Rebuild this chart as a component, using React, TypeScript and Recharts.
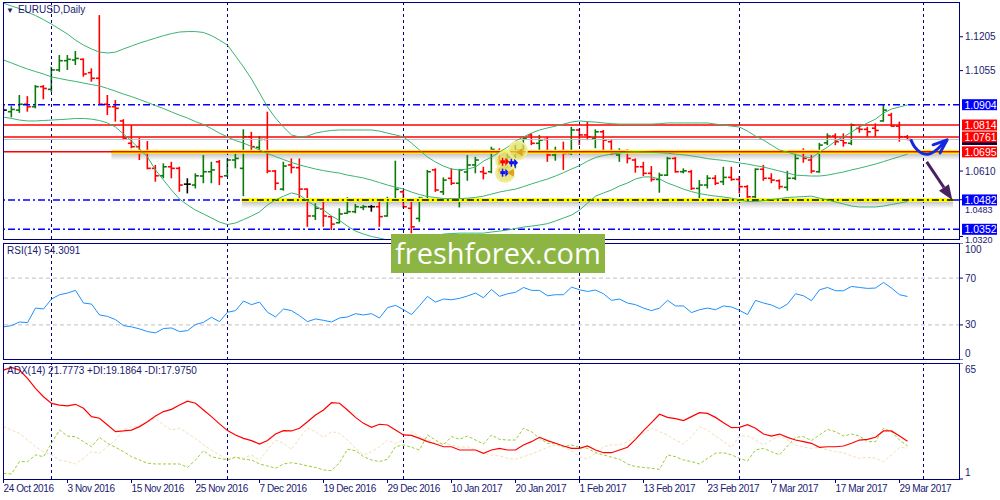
import React from "react";
import {
  ComposedChart,
  Bar,
  Line,
  XAxis,
  YAxis,
  ReferenceLine,
  ReferenceArea,
  ReferenceDot,
} from "recharts";

// daily bars, index 0 = 24 Oct 2016 ... 113 = 30 Mar 2017
const open = [
  1.088, 1.0873, 1.088, 1.0906, 1.0895, 1.0984, 1.0972, 1.1058, 1.1099, 1.1102,
  1.1105, 1.1046, 1.1021, 1.0906, 1.0895, 1.0832, 1.0733, 1.0718, 1.0689, 1.0622,
  1.0589, 1.0629, 1.0622, 1.0552, 1.0548, 1.0588, 1.0607, 1.0651, 1.0589, 1.0659,
  1.0622, 1.0762, 1.0715, 1.075, 1.061, 1.053, 1.0637, 1.0625, 1.053, 1.0411,
  1.0442, 1.0408, 1.0381, 1.0423, 1.043, 1.0449, 1.0452, 1.0452, 1.0411, 1.0485,
  1.0518, 1.0445, 1.04, 1.0482, 1.0615, 1.0518, 1.0578, 1.0556, 1.0606, 1.0637,
  1.0607, 1.0607, 1.0694, 1.0622, 1.0673, 1.0703, 1.077, 1.0733, 1.075, 1.0681,
  1.0696, 1.0688, 1.0792, 1.077, 1.0755, 1.0784, 1.074, 1.0681, 1.0696, 1.0659,
  1.0629, 1.06, 1.0573, 1.0592, 1.0666, 1.0607, 1.0607, 1.0533, 1.0548, 1.0578,
  1.0563, 1.0582, 1.0573, 1.0541, 1.0496, 1.0618, 1.0578, 1.0567, 1.0538, 1.0578,
  1.0696, 1.0659, 1.0607, 1.0735, 1.0765, 1.0747, 1.0733, 1.0799, 1.0795, 1.08,
  1.0832, 1.0858, 1.0809, 1.0762,
];
const high = [
  1.0899, 1.0898, 1.0947, 1.0942, 1.0991, 1.0991, 1.1072, 1.1124, 1.1124, 1.1142,
  1.1109, 1.1065, 1.1301, 1.0947, 1.0925, 1.084, 1.0814, 1.0758, 1.0743, 1.0637,
  1.0644, 1.0651, 1.0629, 1.0578, 1.06, 1.0681, 1.0651, 1.0659, 1.0666, 1.0688,
  1.0795, 1.0784, 1.0765, 1.0873, 1.0615, 1.0651, 1.0666, 1.0666, 1.0533, 1.0467,
  1.0482, 1.0411, 1.0445, 1.0494, 1.0464, 1.046, 1.046, 1.0474, 1.0496, 1.0656,
  1.0526, 1.0489, 1.0496, 1.0615, 1.0622, 1.0582, 1.0622, 1.0618, 1.0681, 1.0673,
  1.0629, 1.0718, 1.0711, 1.0696, 1.0725, 1.0762, 1.0777, 1.077, 1.0762, 1.0718,
  1.074, 1.0806, 1.0799, 1.0829, 1.0795, 1.0792, 1.0747, 1.0711, 1.0706, 1.0666,
  1.0651, 1.0632, 1.0603, 1.0673, 1.0673, 1.0622, 1.0615, 1.057, 1.0592, 1.0592,
  1.0629, 1.0629, 1.0588, 1.0548, 1.0622, 1.0637, 1.06, 1.0573, 1.0611, 1.0696,
  1.0711, 1.0681, 1.0735, 1.0777, 1.0777, 1.0777, 1.0821, 1.0809, 1.0806, 1.0821,
  1.0907, 1.0868, 1.0829, 1.077,
];
const low = [
  1.0858, 1.0848, 1.0868, 1.0873, 1.0888, 1.0928, 1.0961, 1.105, 1.1058, 1.108,
  1.1028, 1.1006, 1.0902, 1.0858, 1.0829, 1.0747, 1.0711, 1.0659, 1.0618, 1.0563,
  1.0578, 1.0578, 1.0518, 1.0511, 1.0533, 1.0556, 1.0556, 1.0548, 1.0585, 1.0622,
  1.0499, 1.0696, 1.0703, 1.06, 1.0526, 1.0523, 1.06, 1.0489, 1.0363, 1.0393,
  1.0363, 1.0349, 1.0378, 1.042, 1.0423, 1.0437, 1.043, 1.0363, 1.0408, 1.0482,
  1.0445, 1.0334, 1.0385, 1.0482, 1.0518, 1.0504, 1.0548, 1.0449, 1.0567, 1.06,
  1.0573, 1.06, 1.0607, 1.0615, 1.0622, 1.0688, 1.0725, 1.0703, 1.0651, 1.0656,
  1.0615, 1.0681, 1.0725, 1.0747, 1.0711, 1.0696, 1.0681, 1.0651, 1.0644, 1.0603,
  1.0588, 1.0563, 1.0514, 1.0588, 1.0603, 1.06, 1.0526, 1.0489, 1.0533, 1.0548,
  1.0548, 1.0567, 1.0511, 1.0489, 1.0489, 1.0567, 1.0556, 1.0529, 1.0523, 1.057,
  1.0647, 1.06, 1.0603, 1.0725, 1.0725, 1.0718, 1.0725, 1.078, 1.0762, 1.0762,
  1.0829, 1.0806, 1.074, 1.0747,
];
const close = [
  1.088, 1.0883, 1.0906, 1.0895, 1.0984, 1.0976, 1.1058, 1.1099, 1.1105, 1.1109,
  1.104, 1.1021, 1.0906, 1.0895, 1.0888, 1.0755, 1.0718, 1.0689, 1.0622, 1.0589,
  1.0629, 1.0622, 1.0548, 1.0552, 1.0589, 1.0607, 1.0615, 1.0585, 1.0659, 1.0666,
  1.0762, 1.0718, 1.075, 1.061, 1.0556, 1.0632, 1.0626, 1.053, 1.0411, 1.0445,
  1.0411, 1.0375, 1.042, 1.043, 1.0452, 1.0452, 1.0452, 1.0408, 1.0482, 1.0529,
  1.0452, 1.0363, 1.049, 1.0607, 1.0526, 1.057, 1.0556, 1.0615, 1.0637, 1.0659,
  1.06, 1.0706, 1.0622, 1.0673, 1.0703, 1.0755, 1.0733, 1.0747, 1.0681, 1.0696,
  1.0688, 1.0792, 1.077, 1.0762, 1.0784, 1.0747, 1.0688, 1.0696, 1.0666, 1.0629,
  1.06, 1.0573, 1.0592, 1.0666, 1.0607, 1.0611, 1.0533, 1.0548, 1.0578, 1.0556,
  1.0582, 1.0573, 1.0541, 1.0496, 1.0618, 1.0578, 1.057, 1.0541, 1.0578, 1.0666,
  1.0666, 1.061, 1.0725, 1.0765, 1.074, 1.0735, 1.0814, 1.0795, 1.0784, 1.079,
  1.088, 1.0809, 1.0762, 1.075,
];

// Bollinger bands
const bbUpper = [
  1.1354, 1.1341, 1.133, 1.1314, 1.1299, 1.1281, 1.1261, 1.1239, 1.1217, 1.119,
  1.1168, 1.1151, 1.1137, 1.1133, 1.1137, 1.1151, 1.1164, 1.1177, 1.1188, 1.1199,
  1.121, 1.1219, 1.1226, 1.1228, 1.1228, 1.1224, 1.121, 1.119, 1.1168, 1.112,
  1.1071, 1.1018, 1.0956, 1.0894, 1.0845, 1.0805, 1.077, 1.0761, 1.0765, 1.0778,
  1.0785, 1.079, 1.0792, 1.0792, 1.0792, 1.0792, 1.0792, 1.0787, 1.0778, 1.077,
  1.0761, 1.0734, 1.0703, 1.0672, 1.065, 1.0632, 1.0619, 1.0615, 1.0619, 1.0628,
  1.0654, 1.0672, 1.0694, 1.0716, 1.0743, 1.0761, 1.0778, 1.0792, 1.0801, 1.0809,
  1.0818, 1.0827, 1.0832, 1.0829, 1.0827, 1.0823, 1.082, 1.0818, 1.0818, 1.0818,
  1.0818, 1.0818, 1.082, 1.0823, 1.0823, 1.0823, 1.0823, 1.0823, 1.0823, 1.0818,
  1.0814, 1.0809, 1.0805, 1.0787, 1.0765, 1.0747, 1.0725, 1.0703, 1.0694, 1.0683,
  1.0674, 1.0668, 1.0694, 1.0716, 1.0743, 1.0761, 1.0783, 1.0805, 1.0823, 1.084,
  1.0867, 1.0885, 1.0894, 1.0903,
];
const bbMiddle = [
  1.1102, 1.1089, 1.1075, 1.1062, 1.1051, 1.104, 1.1027, 1.102, 1.1013, 1.1007,
  1.1, 1.0993, 1.0987, 1.0976, 1.0964, 1.0951, 1.094, 1.0927, 1.0914, 1.09,
  1.0887, 1.0872, 1.0858, 1.0845, 1.0829, 1.0816, 1.0798, 1.0778, 1.0761, 1.0745,
  1.0734, 1.0719, 1.0703, 1.0688, 1.0674, 1.0661, 1.0648, 1.0637, 1.0628, 1.0619,
  1.0612, 1.0606, 1.0601, 1.0592, 1.0586, 1.0579, 1.057, 1.0559, 1.0548, 1.0539,
  1.053, 1.0517, 1.0506, 1.0497, 1.0493, 1.0488, 1.0488, 1.0488, 1.049, 1.0493,
  1.0499, 1.0508, 1.0517, 1.0524, 1.053, 1.0541, 1.0553, 1.0564, 1.0575, 1.0588,
  1.0603, 1.0619, 1.0634, 1.0654, 1.067, 1.0679, 1.0685, 1.069, 1.0694, 1.0696,
  1.0694, 1.0693, 1.0691, 1.0689, 1.0685, 1.0682, 1.0677, 1.0672, 1.0665, 1.0661,
  1.0657, 1.0652, 1.0646, 1.0641, 1.0634, 1.0628, 1.0619, 1.061, 1.0601, 1.0592,
  1.059, 1.0588, 1.0588, 1.0592, 1.0599, 1.0606, 1.0615, 1.0623, 1.0632, 1.0641,
  1.0652, 1.0663, 1.0674, 1.0685,
];
const bbLower = [
  1.0849, 1.0843, 1.0836, 1.0832, 1.0832, 1.0834, 1.0836, 1.0838, 1.084, 1.0843,
  1.0843, 1.084, 1.0834, 1.0823, 1.0805, 1.0774, 1.0743, 1.0708, 1.0672, 1.0615,
  1.057, 1.0526, 1.0486, 1.046, 1.0437, 1.042, 1.0402, 1.0384, 1.0373, 1.038,
  1.0395, 1.0411, 1.0429, 1.046, 1.0482, 1.0499, 1.0513, 1.0504, 1.0477, 1.0455,
  1.0437, 1.0411, 1.0391, 1.0366, 1.0344, 1.0331, 1.032, 1.0313, 1.0304, 1.0298,
  1.0291, 1.0289, 1.0296, 1.0309, 1.0322, 1.0331, 1.0333, 1.0335, 1.0335, 1.0335,
  1.0335, 1.034, 1.0344, 1.0349, 1.0355, 1.0362, 1.0366, 1.0371, 1.0377, 1.0389,
  1.0402, 1.0415, 1.0437, 1.0468, 1.0499, 1.0513, 1.0526, 1.0544, 1.0557, 1.0575,
  1.0584, 1.0584, 1.0575, 1.0557, 1.0544, 1.053, 1.0519, 1.051, 1.0504, 1.0499,
  1.0495, 1.049, 1.0482, 1.0475, 1.0475, 1.0479, 1.0484, 1.0488, 1.0493, 1.0495,
  1.0497, 1.0499, 1.049, 1.0482, 1.0473, 1.0464, 1.0455, 1.0451, 1.0451, 1.0451,
  1.0455, 1.0462, 1.0468, 1.0475,
];

const rsi = [
  28.3, 29.4, 32.5, 31.9, 44.4, 43.6, 52.1, 55.8, 57.2, 59.5,
  48.7, 47.8, 38.5, 37.3, 34.5, 29.4, 28.3, 26.6, 24.3, 23.2,
  26.9, 27.4, 24.3, 25.1, 30.3, 32.2, 36.5, 32.8, 40.8, 42.2,
  50.4, 47.3, 49.5, 40.8, 36.8, 43.6, 42.2, 37.9, 32.8, 35.1,
  33.9, 32.5, 35.9, 36.8, 39.6, 38.5, 39.6, 35.9, 44.7, 46.7,
  43.0, 38.8, 46.4, 54.4, 49.5, 52.1, 51.5, 52.7, 54.7, 57.2,
  53.2, 60.3, 54.4, 56.6, 57.8, 62.0, 59.5, 59.5, 54.9, 55.8,
  55.8, 62.3, 60.0, 58.6, 59.8, 56.6, 51.0, 52.1, 48.7, 47.3,
  44.4, 42.2, 44.4, 51.0, 46.2, 46.2, 40.5, 43.0, 44.4, 43.0,
  46.2, 45.3, 42.5, 38.8, 51.0, 48.7, 47.0, 43.9, 47.8, 56.6,
  54.9, 50.7, 60.0, 62.0, 59.2, 59.2, 62.9, 62.0, 61.2, 61.5,
  66.3, 61.5, 55.8, 54.3,
];

const adx = [
  61.1, 62.6, 61.1, 56.5, 51.0, 46.4, 42.7, 41.8, 41.3, 42.2,
  40.0, 35.4, 34.5, 30.8, 27.1, 27.5, 28.0, 29.9, 32.6, 35.8,
  38.2, 39.4, 41.8, 43.9, 42.8, 39.1, 35.4, 31.4, 27.7, 25.3,
  23.4, 22.2, 20.3, 22.2, 25.8, 27.7, 27.5, 29.0, 32.6, 36.3,
  39.1, 43.1, 42.8, 39.1, 35.0, 31.7, 29.5, 31.2, 30.8, 28.0,
  25.3, 25.1, 23.4, 21.6, 20.3, 18.8, 18.8, 17.0, 17.0, 17.0,
  15.2, 17.0, 17.9, 17.0, 17.0, 19.8, 21.6, 24.0, 22.2, 20.7,
  19.2, 17.9, 17.9, 19.2, 17.0, 15.5, 15.5, 17.0, 18.5, 22.9,
  27.7, 32.1, 36.7, 35.0, 34.3, 33.2, 35.4, 37.6, 37.2, 35.0,
  32.1, 29.3, 29.5, 31.0, 29.0, 25.8, 24.7, 25.8, 24.0, 22.5,
  21.6, 20.7, 18.5, 18.8, 18.8, 19.2, 20.7, 22.5, 22.9, 24.0,
  27.5, 27.5, 24.7, 21.8,
];
const plusDi = [
  4.1, 3.8, 10.6, 10.6, 14.3, 13.3, 20.7, 28.0, 24.7, 24.4,
  21.6, 18.8, 24.0, 20.7, 18.5, 16.1, 13.3, 11.5, 9.7, 9.3,
  9.3, 9.3, 9.3, 7.4, 11.5, 16.6, 13.3, 12.4, 11.5, 13.0,
  11.9, 11.5, 9.3, 8.2, 6.9, 9.3, 10.0, 9.3, 8.2, 7.4,
  6.0, 5.6, 10.0, 17.4, 16.6, 13.3, 11.5, 10.6, 11.9, 18.8,
  19.8, 18.5, 17.0, 25.3, 22.5, 19.8, 24.4, 22.9, 24.7, 22.5,
  20.3, 25.3, 22.9, 22.5, 22.5, 29.0, 27.1, 23.4, 20.7, 20.7,
  18.8, 19.8, 18.5, 17.9, 15.5, 14.3, 13.0, 11.9, 9.3, 7.8,
  7.4, 6.9, 6.3, 14.3, 13.3, 11.5, 10.6, 9.3, 12.4, 15.2,
  15.5, 14.3, 12.4, 10.9, 17.0, 17.9, 16.1, 14.3, 19.2, 24.0,
  24.4, 22.2, 25.3, 28.4, 27.1, 24.7, 25.8, 24.7, 21.6, 21.6,
  29.0, 27.1, 22.5, 19.2,
];
const minusDi = [
  29.9, 28.0, 26.2, 22.5, 18.8, 16.1, 14.3, 11.5, 10.6, 9.3,
  12.4, 16.1, 15.2, 18.8, 22.5, 28.0, 29.9, 29.9, 32.6, 34.5,
  30.8, 28.0, 29.0, 26.2, 23.4, 19.8, 17.0, 14.3, 11.5, 13.3,
  12.4, 14.3, 11.5, 17.0, 22.5, 20.7, 17.4, 23.4, 29.0, 27.1,
  24.0, 27.1, 26.2, 22.5, 17.9, 14.3, 16.1, 18.8, 22.5, 20.7,
  22.5, 27.1, 24.4, 22.5, 20.7, 20.7, 19.8, 18.5, 18.8, 17.0,
  15.2, 14.3, 13.7, 12.4, 11.9, 13.3, 14.8, 16.6, 18.5, 19.8,
  18.5, 16.6, 13.3, 11.9, 15.2, 18.8, 19.8, 19.8, 21.6, 24.4,
  26.2, 29.0, 27.1, 25.3, 22.5, 20.3, 24.4, 29.9, 28.0, 24.7,
  21.6, 18.5, 24.7, 24.7, 22.5, 19.8, 22.5, 24.7, 22.5, 19.8,
  18.5, 17.9, 18.5, 17.0, 16.1, 15.5, 13.7, 12.4, 13.0, 12.4,
  10.6, 14.3, 18.5, 18.0,
];

const dateTicks = [0, 8, 16, 24, 32, 40, 48, 56, 64, 72, 80, 88, 96, 104, 112];
const dateLabels = [
  "24 Oct 2016", "3 Nov 2016", "15 Nov 2016", "25 Nov 2016", "7 Dec 2016",
  "19 Dec 2016", "29 Dec 2016", "10 Jan 2017", "20 Jan 2017", "1 Feb 2017",
  "13 Feb 2017", "23 Feb 2017", "7 Mar 2017", "17 Mar 2017", "29 Mar 2017",
];
const monthStarts = [6, 28, 50, 72, 92, 115];
const priceTicks = [1.1205, 1.1055, 1.061, 1.0483, 1.032];
const blueLevels = [1.0904, 1.0482, 1.0352];
const redLevels = [1.0814, 1.0761, 1.0695];
const bidPrice = 1.075;

// hand-drawn forecast arrows and trade markers
const blueCurve = [
  { i: 113.4, p: 1.075 },
  { i: 113.8, p: 1.0718 },
  { i: 114.6, p: 1.0689 },
  { i: 115.6, p: 1.0681 },
  { i: 116.4, p: 1.0696 },
  { i: 117.1, p: 1.0718 },
  { i: 117.7, p: 1.0744 },
];
const purpleArrow = [
  { x: 115.4, y: 1.0651 },
  { x: 118.6, y: 1.0482 },
];
const glowSpots = [
  { i: 62.7, p: 1.0657 },
  { i: 64.3, p: 1.0701 },
  { i: 62.7, p: 1.0602 },
];
const tradeMarks = [
  { i: 62.6, p: 1.0651, kind: "buy" },
  { i: 63.7, p: 1.0647, kind: "sell" },
  { i: 62.6, p: 1.0603, kind: "sell" },
  { i: 63.3, p: 1.0603, kind: "close" },
  { i: 64.4, p: 1.0693, kind: "close" },
];

const X_DOMAIN: [number, number] = [-0.0625, 119.5625];
const PRICE_DOMAIN: [number, number] = [1.0309, 1.1359];
const NAVY = "#00007f";
const TEXT = "#1a1a70";
const DASHDOT = "7 3 2 3";

const rows = open.map((o, i) => ({
  i,
  o,
  h: high[i],
  l: low[i],
  c: close[i],
  range: [low[i], high[i]],
  up: bbUpper[i],
  mid: bbMiddle[i],
  lo: bbLower[i],
  rsi: rsi[i],
  adx: adx[i],
  pdi: plusDi[i],
  mdi: minusDi[i],
}));

function OhlcShape(props: any) {
  const { x, y, width, height, payload } = props;
  if (x == null || !payload) return <g />;
  const top = Math.min(y, y + height);
  const h = Math.abs(height);
  const span = payload.h - payload.l || 1;
  const yOf = (v: number) => top + ((payload.h - v) / span) * h;
  const color =
    payload.c > payload.o ? "#0a7a0a" : payload.c < payload.o ? "#ff0000" : "#000000";
  const cx = x + width / 2;
  return (
    <g stroke={color} strokeWidth={1.6} fill="none">
      <line x1={cx} y1={top} x2={cx} y2={top + h} />
      <line x1={cx - 3.5} y1={yOf(payload.o)} x2={cx} y2={yOf(payload.o)} />
      <line x1={cx} y1={yOf(payload.c)} x2={cx + 3.5} y2={yOf(payload.c)} />
    </g>
  );
}

// coloured price tag on the right scale
const tag = (text: string, bg: string) => (props: any) => {
  const vb = props.viewBox;
  if (!vb) return null;
  const x = vb.x + vb.width + 2;
  return (
    <g>
      <rect x={x} y={vb.y - 5.5} width={35} height={11} fill={bg} />
      {text && (
        <text x={x + 2.5} y={vb.y + 4} fill="#ffffff" fontSize={10.5}>
          {text}
        </text>
      )}
    </g>
  );
};

// right-hand scale label; some sit below a tag so they get nudged and shrunk
function sideTick(
  fmt: (v: number) => string,
  shift: (v: number) => number,
  size: (v: number) => number = () => 10
) {
  return (props: any) => (
    <text
      x={props.x}
      y={props.y + shift(props.payload.value) + 3.5}
      fill={TEXT}
      fontSize={size(props.payload.value)}
      textAnchor="start"
    >
      {fmt(props.payload.value)}
    </text>
  );
}

function DateTick(props: any) {
  const idx = dateTicks.indexOf(props.payload.value);
  return (
    <text
      x={props.x}
      y={props.y + 7}
      fill={TEXT}
      fontSize={10}
      letterSpacing={-0.4}
      textAnchor="start"
    >
      {dateLabels[idx]}
    </text>
  );
}

function ArrowShape(props: any) {
  const { x1, y1, x2, y2 } = props;
  const a = Math.atan2(y2 - y1, x2 - x1);
  const len = 15;
  const hw = 6;
  const bx = x2 - len * Math.cos(a);
  const by = y2 - len * Math.sin(a);
  const p1 = `${bx + hw * Math.sin(a)},${by - hw * Math.cos(a)}`;
  const p2 = `${bx - hw * Math.sin(a)},${by + hw * Math.cos(a)}`;
  return (
    <g>
      <line x1={x1} y1={y1} x2={bx} y2={by} stroke="#4a2160" strokeWidth={3} />
      <polygon points={`${x2},${y2} ${p1} ${p2}`} fill="#4a2160" />
    </g>
  );
}

function blueHead(props: any) {
  if (props.index !== blueCurve.length - 1) return <g key={props.index} />;
  const { cx, cy } = props;
  return (
    <path
      key={props.index}
      d={`M${cx - 12},${cy + 4} L${cx + 2},${cy - 1} L${cx - 5},${cy + 12}`}
      stroke="#1428e0"
      strokeWidth={3}
      fill="none"
      strokeLinecap="round"
      strokeLinejoin="round"
    />
  );
}

function TradeMark(props: any) {
  const { cx, cy, kind } = props;
  if (cx == null) return <g />;
  if (kind === "close") {
    return <polygon points={`${cx + 4},${cy - 4} ${cx - 3},${cy} ${cx + 4},${cy + 4}`} fill="#e0a020" />;
  }
  const col = kind === "buy" ? "#ff0000" : "#1010ff";
  return (
    <g fill={col}>
      <rect x={cx - 4} y={cy - 1.5} width={5} height={3} />
      <polygon points={`${cx + 1},${cy - 4} ${cx + 5},${cy} ${cx + 1},${cy + 4}`} />
      <rect x={cx - 2.5} y={cy - 4} width={1.5} height={8} />
    </g>
  );
}

const frame = (top: number, height: number): React.CSSProperties => ({
  position: "absolute",
  left: 3,
  top,
  width: 957,
  height,
  border: `1px solid ${NAVY}`,
  boxSizing: "border-box",
  pointerEvents: "none",
});

export default function App() {
  return (
    <div
      style={{
        position: "absolute",
        left: 0,
        top: 0,
        width: 1000,
        height: 500,
        background: "#ffffff",
        fontFamily: "'Liberation Sans', Arial, sans-serif",
        overflow: "hidden",
      }}
    >
      {/* price window (svg a bit taller than the plot so the lowest scale label fits) */}
      <div style={{ position: "absolute", left: 0, top: 0 }}>
        <ComposedChart width={1000} height={246} data={rows} margin={{ top: 2, right: 0, bottom: 7, left: 3 }}>
          <defs>
            <linearGradient id="lineShadow" x1="0" y1="0" x2="0" y2="1">
              <stop offset="0" stopColor="#777" stopOpacity={0} />
              <stop offset="0.3" stopColor="#777" stopOpacity={0.45} />
              <stop offset="1" stopColor="#777" stopOpacity={0} />
            </linearGradient>
          </defs>
          <XAxis type="number" dataKey="i" domain={X_DOMAIN} allowDataOverflow hide />
          <YAxis
            orientation="right"
            width={40}
            domain={PRICE_DOMAIN}
            allowDataOverflow
            ticks={priceTicks}
            interval={0}
            axisLine={false}
            tickSize={3}
            tickLine={{ stroke: NAVY }}
            tick={sideTick(
              (v) => v.toFixed(4),
              (v) => (v === 1.032 ? 3 : v === 1.0483 ? 9.5 : 0),
              (v) => (v === 1.032 || v === 1.0483 ? 9 : 10)
            )}
          />
          {monthStarts.map((m) => (
            <ReferenceLine key={m} x={m} stroke={NAVY} strokeDasharray="3 3" />
          ))}
          <ReferenceArea x1={13.5} x2={119.5625} y1={1.0657} y2={1.0702} fill="url(#lineShadow)" fillOpacity={1} stroke="none" />
          <ReferenceArea x1={29.8} x2={118.7} y1={1.0444} y2={1.0489} fill="url(#lineShadow)" fillOpacity={1} stroke="none" />
          {blueLevels.map((v) => (
            <ReferenceLine
              key={v}
              y={v}
              stroke="#0000ff"
              strokeWidth={1.5}
              strokeDasharray={DASHDOT}
              label={tag(v.toFixed(4), "#0000ff")}
            />
          ))}
          <ReferenceLine segment={[{ x: 29.8, y: 1.0482 }, { x: 118.7, y: 1.0482 }]} stroke="#ffff00" strokeWidth={4} />
          <ReferenceLine segment={[{ x: 29.8, y: 1.0482 }, { x: 118.7, y: 1.0482 }]} stroke="#000000" strokeWidth={1.5} strokeDasharray={DASHDOT} />
          <ReferenceLine segment={[{ x: 13.5, y: 1.0695 }, { x: 119.5625, y: 1.0695 }]} stroke="#ffff00" strokeWidth={4} />
          <ReferenceLine y={bidPrice} stroke="#c0c0c0" label={tag("", "#000040")} />
          {redLevels.map((v) => (
            <ReferenceLine key={v} y={v} stroke="#ff0000" strokeWidth={1.5} label={tag(v.toFixed(4), "#ff0000")} />
          ))}
          <Line dataKey="up" stroke="#3cb371" strokeWidth={1} dot={false} isAnimationActive={false} />
          <Line dataKey="mid" stroke="#3cb371" strokeWidth={1} dot={false} isAnimationActive={false} />
          <Line dataKey="lo" stroke="#3cb371" strokeWidth={1} dot={false} isAnimationActive={false} />
          <Bar dataKey="range" barSize={7} shape={OhlcShape} isAnimationActive={false} />
          {glowSpots.map((g, k) => (
            <ReferenceDot key={k} x={g.i} y={g.p} r={9} fill="#e2de5a" fillOpacity={0.75} stroke="#efec9a" strokeWidth={2} />
          ))}
          {tradeMarks.map((t, k) => (
            <ReferenceDot key={"t" + k} x={t.i} y={t.p} r={4} shape={(p: any) => <TradeMark {...p} kind={t.kind} />} />
          ))}
          <Line
            data={blueCurve}
            dataKey="p"
            type="basis"
            stroke="#1428e0"
            strokeWidth={3}
            dot={blueHead}
            isAnimationActive={false}
          />
          <ReferenceLine segment={purpleArrow} shape={ArrowShape} />
        </ComposedChart>
      </div>

      {/* RSI window */}
      <div style={{ position: "absolute", left: 0, top: 243 }}>
        <ComposedChart width={1000} height={117} data={rows} margin={{ top: 0, right: 0, bottom: 0, left: 3 }}>
          <XAxis type="number" dataKey="i" domain={X_DOMAIN} allowDataOverflow hide />
          <YAxis
            orientation="right"
            width={40}
            domain={[0, 100]}
            allowDataOverflow
            ticks={[0, 30, 70, 100]}
            interval={0}
            axisLine={false}
            tickSize={3}
            tickLine={{ stroke: NAVY }}
            tick={sideTick((v) => String(v), (v) => (v === 100 ? 6 : v === 0 ? -7 : 0))}
          />
          {monthStarts.map((m) => (
            <ReferenceLine key={m} x={m} stroke={NAVY} strokeDasharray="3 3" />
          ))}
          <ReferenceLine y={70} stroke="#c0c0c0" strokeDasharray="4 3" />
          <ReferenceLine y={30} stroke="#c0c0c0" strokeDasharray="4 3" />
          <Line dataKey="rsi" stroke="#1e90ff" strokeWidth={1} dot={false} isAnimationActive={false} />
        </ComposedChart>
      </div>

      {/* ADX window */}
      <div style={{ position: "absolute", left: 0, top: 363 }}>
        <ComposedChart width={1000} height={137} data={rows} margin={{ top: 0, right: 0, bottom: 0, left: 3 }}>
          <XAxis
            type="number"
            dataKey="i"
            domain={X_DOMAIN}
            allowDataOverflow
            ticks={dateTicks}
            interval={0}
            height={21}
            axisLine={false}
            tickSize={4}
            tickLine={{ stroke: NAVY }}
            tick={DateTick}
          />
          <YAxis
            orientation="right"
            width={40}
            domain={[1, 65]}
            allowDataOverflow
            ticks={[1, 65]}
            interval={0}
            axisLine={false}
            tickSize={3}
            tickLine={{ stroke: NAVY }}
            tick={sideTick((v) => String(v), (v) => (v === 65 ? 6 : -7))}
          />
          {monthStarts.map((m) => (
            <ReferenceLine key={m} x={m} stroke={NAVY} strokeDasharray="3 3" />
          ))}
          <Line dataKey="mdi" stroke="#f5deb3" strokeWidth={1} strokeDasharray="3 2" dot={false} isAnimationActive={false} />
          <Line dataKey="pdi" stroke="#9acd32" strokeWidth={1} strokeDasharray="3 2" dot={false} isAnimationActive={false} />
          <Line dataKey="adx" stroke="#ff0000" strokeWidth={1.2} dot={false} isAnimationActive={false} />
        </ComposedChart>
      </div>

      <div style={frame(2, 238)} />
      <div style={frame(243, 117)} />
      <div style={frame(363, 117)} />

      <div style={{ position: "absolute", left: 6, top: 4, fontSize: 10, color: TEXT, whiteSpace: "nowrap" }}>
        <span style={{ fontSize: 8, marginRight: 4 }}>▼</span>EURUSD,Daily
      </div>
      <div style={{ position: "absolute", left: 7, top: 245, fontSize: 10, color: TEXT }}>RSI(14) 54.3091</div>
      <div style={{ position: "absolute", left: 7, top: 365, fontSize: 10, color: TEXT, whiteSpace: "nowrap" }}>
        ADX(14) 21.7773 +DI:19.1864 -DI:17.9750
      </div>

      <div
        style={{
          position: "absolute",
          left: 391,
          top: 234,
          width: 214,
          height: 39,
          background: "#8db543",
          color: "#ffffff",
          fontFamily: "'Open Sans', sans-serif",
          fontSize: 29,
          lineHeight: "37px",
          textAlign: "center",
        }}
      >
        freshforex.com
      </div>
    </div>
  );
}
